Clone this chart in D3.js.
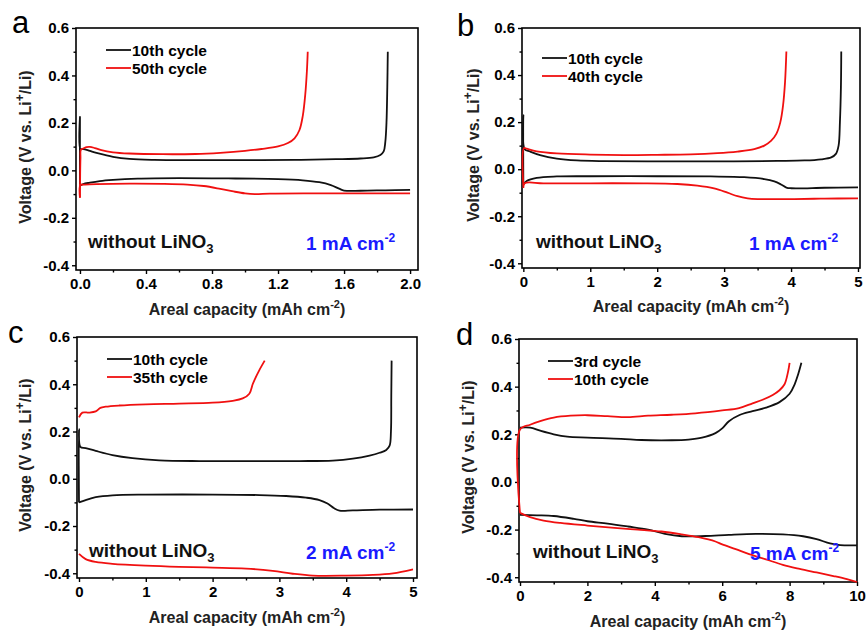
<!DOCTYPE html>
<html>
<head>
<meta charset="utf-8">
<script src="https://cdn.jsdelivr.net/npm/d3@7"></script>
<style>
  body { margin: 0; background: #fff; }
  svg { font-family: "Liberation Sans", Arial, sans-serif; }
</style>
</head>
<body>
<svg id="fig" width="867" height="630"></svg>
<script>
// curves: [capacity (mAh cm-2), voltage (V)]
// panel a, 1 mA cm-2
var aCharge10 = [[0,-0.06],[0,0.225],[0.003,0.09],[0.02,0.09],[0.06,0.082],[0.1,0.074],[0.15,0.065],[0.2,0.057],[0.3,0.048],[0.45,0.044],[0.7,0.043],[1.0,0.043],[1.3,0.044],[1.55,0.047],[1.7,0.05],[1.78,0.055],[1.82,0.065],[1.84,0.08],[1.85,0.12],[1.857,0.2],[1.862,0.35],[1.865,0.5]];
var aCharge50 = [[0,-0.115],[0.003,0.05],[0.006,0.088],[0.02,0.092],[0.04,0.098],[0.06,0.099],[0.09,0.094],[0.13,0.085],[0.2,0.076],[0.3,0.071],[0.5,0.068],[0.7,0.069],[0.85,0.074],[1.0,0.082],[1.1,0.09],[1.2,0.101],[1.26,0.115],[1.3,0.135],[1.33,0.17],[1.35,0.23],[1.365,0.32],[1.375,0.42],[1.38,0.5]];
var aDischarge10 = [[0,-0.065],[0.02,-0.058],[0.06,-0.052],[0.12,-0.045],[0.2,-0.04],[0.35,-0.035],[0.6,-0.033],[0.9,-0.034],[1.2,-0.037],[1.35,-0.042],[1.45,-0.05],[1.52,-0.062],[1.57,-0.077],[1.6,-0.085],[1.7,-0.086],[1.85,-0.084],[2.0,-0.082]];
var aDischarge50 = [[0,-0.115],[0.003,-0.062],[0.03,-0.06],[0.1,-0.058],[0.3,-0.056],[0.5,-0.057],[0.65,-0.06],[0.75,-0.066],[0.85,-0.078],[0.93,-0.089],[1.0,-0.097],[1.06,-0.1],[1.15,-0.098],[1.4,-0.097],[1.7,-0.097],[2.0,-0.097]];

// panel b, 1 mA cm-2
var bCharge10 = [[0,-0.06],[0,0.23],[0.02,0.085],[0.1,0.075],[0.25,0.06],[0.5,0.045],[0.8,0.037],[1.2,0.034],[2.0,0.033],[3.0,0.033],[3.8,0.035],[4.2,0.037],[4.45,0.042],[4.6,0.05],[4.67,0.065],[4.71,0.1],[4.73,0.2],[4.745,0.35],[4.75,0.5]];
var bCharge40 = [[0,-0.07],[0.01,0.09],[0.05,0.087],[0.2,0.076],[0.5,0.067],[1.0,0.062],[1.5,0.06],[2.0,0.061],[2.5,0.063],[2.9,0.068],[3.2,0.075],[3.45,0.085],[3.6,0.1],[3.7,0.12],[3.78,0.15],[3.84,0.2],[3.88,0.27],[3.91,0.37],[3.93,0.5]];
var bDischarge10 = [[0,-0.065],[0.05,-0.05],[0.2,-0.037],[0.5,-0.031],[1.0,-0.03],[2.0,-0.03],[2.8,-0.031],[3.3,-0.034],[3.6,-0.042],[3.75,-0.052],[3.85,-0.065],[3.93,-0.078],[4.0,-0.081],[4.5,-0.079],[5.0,-0.077]];
var bDischarge40 = [[0,-0.08],[0.02,-0.06],[0.3,-0.06],[1.0,-0.06],[1.8,-0.06],[2.3,-0.063],[2.6,-0.07],[2.85,-0.082],[3.05,-0.1],[3.2,-0.115],[3.35,-0.124],[3.5,-0.127],[4.0,-0.127],[4.5,-0.125],[5.0,-0.124]];

// panel c, 2 mA cm-2
var cCharge10 = [[0,-0.1],[0,0.21],[0.02,0.135],[0.1,0.13],[0.25,0.118],[0.5,0.1],[0.8,0.087],[1.2,0.078],[1.8,0.075],[2.5,0.075],[3.3,0.075],[3.8,0.077],[4.1,0.085],[4.35,0.098],[4.5,0.11],[4.6,0.122],[4.65,0.14],[4.67,0.2],[4.675,0.35],[4.68,0.5]];
var cCharge35 = [[0,0.26],[0.05,0.28],[0.15,0.28],[0.25,0.285],[0.32,0.3],[0.4,0.305],[0.6,0.31],[1.0,0.315],[1.5,0.318],[2.0,0.322],[2.3,0.33],[2.45,0.34],[2.55,0.36],[2.6,0.4],[2.63,0.42],[2.7,0.46],[2.78,0.5]];
var cDischarge10 = [[0,-0.1],[0.1,-0.09],[0.25,-0.078],[0.5,-0.07],[1.0,-0.067],[2.0,-0.067],[2.7,-0.069],[3.1,-0.073],[3.4,-0.08],[3.6,-0.09],[3.72,-0.105],[3.82,-0.125],[3.9,-0.135],[4.1,-0.134],[4.5,-0.131],[5.0,-0.13]];
var cDischarge35 = [[0,-0.318],[0.1,-0.34],[0.25,-0.352],[0.5,-0.36],[1.0,-0.368],[1.5,-0.373],[2.0,-0.376],[2.5,-0.38],[2.9,-0.39],[3.2,-0.402],[3.5,-0.41],[4.0,-0.41],[4.4,-0.407],[4.7,-0.4],[5.0,-0.383]];

// panel d, 5 mA cm-2
var dCharge3 = [[0,0.228],[0.3,0.228],[0.6,0.215],[1.0,0.2],[1.4,0.19],[2.0,0.186],[3.0,0.181],[3.6,0.176],[4.5,0.175],[5.0,0.178],[5.4,0.186],[5.8,0.205],[6.0,0.225],[6.2,0.255],[6.5,0.28],[6.9,0.297],[7.3,0.312],[7.7,0.335],[8.0,0.37],[8.15,0.41],[8.25,0.45],[8.35,0.5]];
var dCharge10 = [[0,-0.13],[0,0.22],[0.3,0.24],[0.6,0.255],[1.0,0.27],[1.5,0.278],[2.0,0.28],[2.6,0.276],[3.2,0.272],[3.8,0.278],[4.5,0.282],[5.2,0.288],[6.0,0.3],[6.5,0.31],[6.9,0.33],[7.2,0.345],[7.5,0.365],[7.7,0.385],[7.85,0.41],[7.95,0.46],[8.0,0.5]];
var dDischarge3 = [[0,-0.138],[0.5,-0.14],[1.0,-0.143],[1.6,-0.155],[2.0,-0.165],[2.6,-0.175],[3.2,-0.187],[3.8,-0.2],[4.3,-0.218],[4.8,-0.228],[5.5,-0.227],[6.2,-0.222],[7.0,-0.218],[7.8,-0.22],[8.4,-0.228],[8.8,-0.24],[9.2,-0.258],[9.5,-0.265],[10.0,-0.266]];
var dDischarge10 = [[0,-0.13],[0.3,-0.148],[0.7,-0.162],[1.2,-0.172],[2.0,-0.183],[2.8,-0.193],[3.5,-0.2],[4.2,-0.208],[4.8,-0.22],[5.3,-0.232],[5.8,-0.25],[6.0,-0.262],[6.4,-0.282],[6.8,-0.303],[7.3,-0.325],[7.8,-0.348],[8.3,-0.365],[8.8,-0.38],[9.3,-0.395],[9.7,-0.408],[10.0,-0.42]];

// legend labels and current densities
var legendA = ["10th cycle", "50th cycle"];
var legendB = ["10th cycle", "40th cycle"];
var legendC = ["10th cycle", "35th cycle"];
var legendD = ["3rd cycle", "10th cycle"];
var currents = ["1", "1", "2", "5"];

// tick values
var yTicks = [-0.4, -0.2, 0.0, 0.2, 0.4, 0.6];
var yMinor = [-0.3, -0.1, 0.1, 0.3, 0.5];
var xTicksA = [0, 0.4, 0.8, 1.2, 1.6, 2.0];
var xMinorA = [0.2, 0.6, 1.0, 1.4, 1.8];
var xTicks5 = [0, 1, 2, 3, 4, 5];
var xMinor5 = [0.5, 1.5, 2.5, 3.5, 4.5];
var xTicksD = [0, 2, 4, 6, 8, 10];
var xMinorD = [1, 3, 5, 7, 9];

var blackCol = "#111";
var redCol = "#f01010";
var blueCol = "#1a1aff";

var panels = [
  { letter: "a", box: {l: 76, t: 28, r: 418, b: 270}, xDom: [-0.024, 2.048], xTicks: xTicksA, xMinor: xMinorA, fmt: d => d.toFixed(1),
    curves: [[aCharge10, aDischarge10], [aCharge50, aDischarge50]], legend: legendA, cur: currents[0],
    letterPos: [12, 33], legPos: [106, 50], ytitle: [25, 147], xtitleY: 315, noteY: 248, curX: 306 },
  { letter: "b", box: {l: 522, t: 28, r: 860, b: 268}, xDom: [-0.02, 5.03], xTicks: xTicks5, xMinor: xMinor5, fmt: d => d.toFixed(0),
    curves: [[bCharge10, bDischarge10], [bCharge40, bDischarge40]], legend: legendB, cur: currents[1],
    letterPos: [457, 36], legPos: [542, 58], ytitle: [473, 145], xtitleY: 312, noteY: 248, curX: 749 },
  { letter: "c", box: {l: 77, t: 337, r: 417, b: 578}, xDom: [-0.03, 5.06], xTicks: xTicks5, xMinor: xMinor5, fmt: d => d.toFixed(0),
    curves: [[cCharge10, cDischarge10], [cCharge35, cDischarge35]], legend: legendC, cur: currents[2],
    letterPos: [8, 343], legPos: [107, 359], ytitle: [25, 455], xtitleY: 623, noteY: 557, curX: 306 },
  { letter: "d", box: {l: 519, t: 339, r: 857, b: 582}, xDom: [-0.03, 10.0], xTicks: xTicksD, xMinor: xMinorD, fmt: d => d.toFixed(0),
    curves: [[dCharge3, dDischarge3], [dCharge10, dDischarge10]], legend: legendD, cur: currents[3],
    letterPos: [456, 345], legPos: [548, 361], ytitle: [468, 457], xtitleY: 627, noteY: 558, curX: 750 }
];

var svg = d3.select("#fig");

panels.forEach(function(p) {
  var bx = p.box;
  var x = d3.scaleLinear().domain(p.xDom).range([bx.l, bx.r]);
  var y = d3.scaleLinear().domain([-0.42, 0.6]).range([bx.b, bx.t]);
  var g = svg.append("g");

  // frame
  g.append("rect")
    .attr("x", bx.l).attr("y", bx.t)
    .attr("width", bx.r - bx.l).attr("height", bx.b - bx.t)
    .attr("fill", "none").attr("stroke", "#000").attr("stroke-width", 1.6);

  // axes
  var yAxis = g.append("g").attr("transform", `translate(${bx.l},0)`)
    .call(d3.axisLeft(y).tickValues(yTicks).tickSize(4).tickPadding(3).tickFormat(d => d.toFixed(1)));
  var yMin = g.append("g").attr("transform", `translate(${bx.l},0)`)
    .call(d3.axisLeft(y).tickValues(yMinor).tickSize(2.5).tickFormat(""));
  var xAxis = g.append("g").attr("transform", `translate(0,${bx.b})`)
    .call(d3.axisBottom(x).tickValues(p.xTicks).tickSize(4).tickPadding(4).tickFormat(p.fmt));
  var xMin = g.append("g").attr("transform", `translate(0,${bx.b})`)
    .call(d3.axisBottom(x).tickValues(p.xMinor).tickSize(2.5).tickFormat(""));
  [yAxis, yMin, xAxis, xMin].forEach(function(a) {
    a.select(".domain").remove();
    a.selectAll("line").attr("stroke", "#000").attr("stroke-width", 1.4);
    a.selectAll("text").attr("font-size", 15).attr("font-weight", "bold").attr("fill", "#000")
      .attr("font-family", "Liberation Sans, Arial, sans-serif");
  });

  // curves
  var line = d3.line().x(d => x(d[0])).y(d => y(d[1])).curve(d3.curveCatmullRom.alpha(0.5));
  var cols = [blackCol, redCol];
  p.curves.forEach(function(pair, i) {
    pair.forEach(function(c) {
      g.append("path").datum(c).attr("d", line)
        .attr("fill", "none").attr("stroke", cols[i]).attr("stroke-width", 1.8)
        .attr("stroke-linejoin", "round");
    });
  });

  // legend
  p.legend.forEach(function(lab, i) {
    var ly = p.legPos[1] + i * 18;
    g.append("line").attr("x1", p.legPos[0]).attr("x2", p.legPos[0] + 25)
      .attr("y1", ly).attr("y2", ly).attr("stroke", cols[i]).attr("stroke-width", 1.8);
    g.append("text").attr("x", p.legPos[0] + 26).attr("y", ly + 5.5)
      .attr("font-size", 15.5).attr("font-weight", "bold").text(lab);
  });

  // panel letter
  g.append("text").attr("x", p.letterPos[0]).attr("y", p.letterPos[1])
    .attr("font-size", 31).text(p.letter);

  // annotations
  var note = g.append("text").attr("x", bx.l + (p.letter === "d" || p.letter === "b" ? 14 : 12)).attr("y", p.noteY)
    .attr("font-size", 19).attr("font-weight", "bold").attr("fill", "#111");
  note.append("tspan").text("without LiNO");
  note.append("tspan").attr("font-size", 13).attr("dy", 5).text("3");

  var curT = g.append("text").attr("x", p.curX).attr("y", p.noteY + 2)
    .attr("font-size", 19).attr("font-weight", "bold").attr("fill", blueCol);
  curT.append("tspan").text(p.cur + " mA cm");
  curT.append("tspan").attr("font-size", 12).attr("dy", -8).text("-2");

  // axis titles
  var xt = g.append("text").attr("x", (bx.l + bx.r) / 2).attr("y", p.xtitleY)
    .attr("text-anchor", "middle").attr("font-size", 16).attr("font-weight", "bold").attr("fill", "#222");
  xt.append("tspan").text("Areal capacity (mAh cm");
  xt.append("tspan").attr("font-size", 11).attr("dy", -7).text("-2");
  xt.append("tspan").attr("dy", 7).text(")");

  var yt = g.append("text")
    .attr("transform", `translate(${p.ytitle[0] + 6},${p.ytitle[1]}) rotate(-90)`)
    .attr("text-anchor", "middle").attr("font-size", 16).attr("font-weight", "bold").attr("fill", "#222");
  yt.append("tspan").text("Voltage (V vs. Li");
  yt.append("tspan").attr("font-size", 12).attr("dy", -7).text("+");
  yt.append("tspan").attr("dy", 7).text("/Li)");
});
</script>
</body>
</html>
